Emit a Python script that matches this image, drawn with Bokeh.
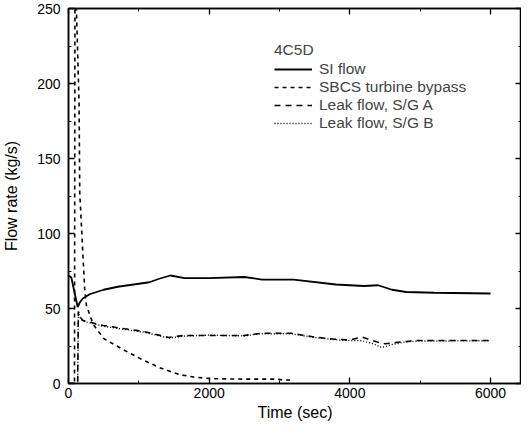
from bokeh.plotting import figure
from bokeh.models import Range1d, LinearAxis, SingleIntervalTicker, Legend, LegendItem
from bokeh.embed import file_html
from bokeh.resources import INLINE

# ---- data ----
si_t = [0, 40, 130, 160, 200, 300, 500, 700, 1000, 1150, 1300, 1450, 1650, 2000,
        2500, 2750, 3200, 3800, 4200, 4400, 4600, 4800, 5200, 6000]
si_v = [72, 70.7, 51, 54, 56.5, 59.5, 62.5, 64.5, 66.5, 67.5, 70, 72, 70.2, 70.3,
        71, 69.3, 69.3, 66, 65, 65.5, 62.5, 61, 60.5, 60]

sbcs_t = [0, 85, 92, 105, 150, 160, 230, 255, 350, 500, 780, 1065, 1300, 1570,
          1780, 2020, 2500, 2970, 3050, 3150]
sbcs_v = [0, 0, 262, 262, 187, 127, 63, 52, 39.5, 30, 22.5, 15.5, 10.5, 6,
          4.3, 3.2, 2.9, 2.9, 2.3, 2.3]

leak_a_t = [0, 130, 140, 170, 206, 492, 800, 1065, 1423, 1638, 2000, 2497, 2740,
            3170, 3500, 3785, 4000, 4170, 4300, 4400, 4500, 4688, 4974, 5500, 6000]
leak_a_v = [0, 0, 48, 44, 42, 38.7, 36.5, 34.7, 30.7, 32, 32, 32, 33.5,
            33.5, 31, 29.5, 29, 31, 29, 27.5, 26.5, 27.5, 28.7, 28.7, 28.7]

leak_b_t = [0, 130, 140, 170, 206, 492, 800, 1065, 1423, 1638, 2000, 2497, 2740,
            3170, 3500, 3785, 4000, 4170, 4300, 4460, 4600, 4800, 5000, 5500, 6000]
leak_b_v = [0, 0, 47, 43.5, 41.5, 38.2, 36, 34.3, 30.3, 31.6, 32.3, 31.7, 33.2,
            33.1, 30.6, 29.2, 28.7, 28.5, 27, 24, 26, 27.8, 28.3, 28.4, 28.5]

x_label = "Time (sec)"
y_label = "Flow rate (kg/s)"
legend_title = "4C5D"
names = ["SI flow", "SBCS turbine bypass", "Leak flow, S/G A", "Leak flow, S/G B"]

FONT = "Liberation Sans"

p = figure(width=521, height=425, output_backend="svg", toolbar_location=None,
           x_range=Range1d(0, 6440), y_range=Range1d(0, 250),
           min_border_left=68, min_border_top=8, min_border_bottom=42, min_border_right=0)
p.xgrid.visible = False
p.ygrid.visible = False
p.outline_line_color = "black"
p.outline_line_width = 1.5
p.background_fill_color = "white"
p.border_fill_color = "white"

xt = SingleIntervalTicker(interval=2000, num_minor_ticks=2)
yt = SingleIntervalTicker(interval=50, num_minor_ticks=2)
p.xaxis.ticker = xt
p.yaxis.ticker = yt


def style(ax):
    ax.axis_line_width = 1.5
    ax.axis_line_color = "black"
    ax.major_tick_in = 6
    ax.major_tick_out = 0
    ax.minor_tick_in = 3
    ax.minor_tick_out = 0
    ax.major_tick_line_width = 1.3
    ax.minor_tick_line_width = 1
    ax.major_label_text_font = FONT
    ax.major_label_text_font_size = "14px"
    ax.major_label_text_color = "black"
    ax.axis_label_text_font = FONT
    ax.axis_label_text_font_size = "16px"
    ax.axis_label_text_font_style = "normal"
    ax.axis_label_text_color = "black"


for ax in p.xaxis + p.yaxis:
    style(ax)
p.xaxis.axis_label = x_label
p.yaxis.axis_label = y_label
p.xaxis.major_label_standoff = 4
p.xaxis.axis_label_standoff = 3
p.yaxis.major_label_standoff = 8
p.yaxis.axis_label_standoff = 14

right = LinearAxis(ticker=yt)
top = LinearAxis(ticker=xt)
for ax in (right, top):
    style(ax)
    ax.major_label_text_font_size = "0px"
    ax.major_label_text_alpha = 0
    ax.major_label_standoff = 0
p.add_layout(right, "right")
p.add_layout(top, "above")

r1 = p.line(si_t, si_v, line_color="black", line_width=1.8)
r2 = p.line(sbcs_t, sbcs_v, line_color="black", line_width=1.6, line_dash="4 4")
r3 = p.line(leak_a_t, leak_a_v, line_color="black", line_width=1.6, line_dash="6 5")
r4 = p.line(leak_b_t, leak_b_v, line_color="black", line_width=1.4, line_dash="1 2")

legend = Legend(items=[LegendItem(label=n, renderers=[r]) for n, r in zip(names, [r1, r2, r3, r4])],
                title=legend_title, location=(206, 251))
legend.title_text_font = FONT
legend.title_text_font_size = "15.5px"
legend.title_text_font_style = "normal"
legend.title_standoff = 1
legend.label_text_font = FONT
legend.label_text_font_size = "15.5px"
legend.glyph_width = 38
legend.glyph_height = 14
legend.label_height = 14
legend.label_standoff = 7
legend.spacing = 0
legend.padding = 0
legend.margin = 0
legend.border_line_color = None
legend.background_fill_alpha = 0
p.add_layout(legend)

open("out.html", "w").write(file_html(p, INLINE))
